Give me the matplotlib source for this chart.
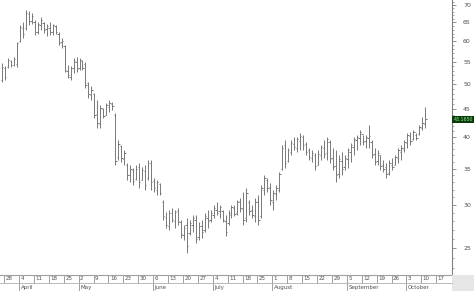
import numpy as np
import pandas as pd
import matplotlib
matplotlib.use('Agg')
import matplotlib.pyplot as plt
import matplotlib.transforms as mtransforms
from matplotlib.ticker import FixedLocator, NullFormatter

# daily OHLC, one bar per business day starting 2011-03-25
highs = [54.8, 54.1, 55.9, 55.5, 56.2, 59.8, 64.3, 65.1, 68.5, 68.2,
         67.7, 65.7, 65.1, 66.5, 65.1, 64.6, 65.1, 64.6, 64.3, 62.4,
         60.9, 59.1, 54.3, 54.1, 55.9, 56.2, 55.9, 55.5, 55.0, 50.5,
         49.7, 48.2, 46.8, 45.8, 45.2, 46.2, 46.8, 46.4, 44.3, 39.5,
         38.7, 37.9, 35.8, 35.5, 35.1, 35.5, 35.8, 35.2, 35.5, 36.3,
         36.3, 33.6, 33.4, 32.9, 30.6, 29.1, 29.4, 29.6, 29.4, 29.6,
         28.1, 27.6, 28.4, 28.1, 28.8, 28.8, 27.9, 28.1, 29.0, 29.4,
         29.4, 30.0, 30.4, 30.0, 29.4, 28.8, 29.4, 30.0, 30.0, 30.6,
         30.9, 31.7, 32.2, 30.6, 30.0, 30.9, 31.3, 32.7, 34.1, 33.6,
         32.9, 32.0, 32.7, 34.5, 38.7, 39.5, 38.2, 39.5, 40.0, 40.0,
         40.7, 40.4, 39.2, 38.2, 37.9, 37.4, 37.9, 38.7, 39.5, 40.0,
         39.5, 38.2, 37.9, 37.1, 37.6, 37.1, 38.2, 39.0, 40.0, 40.4,
         41.2, 40.4, 40.4, 42.1, 39.5, 38.2, 37.9, 37.1, 36.3, 35.8,
         36.3, 36.6, 37.1, 38.2, 38.7, 39.5, 40.7, 40.9, 41.2, 40.7,
         42.1, 43.5, 45.4]
lows = [50.5, 51.0, 53.6, 53.8, 54.1, 53.8, 59.8, 60.9, 63.0, 64.3,
        64.6, 61.6, 61.9, 63.0, 62.2, 61.4, 61.6, 61.6, 61.9, 59.1,
        58.4, 52.7, 51.4, 51.0, 52.5, 52.7, 53.2, 53.2, 49.3, 47.2,
        46.8, 43.4, 41.6, 41.6, 43.4, 43.9, 44.5, 44.9, 35.5, 36.3,
        36.0, 35.5, 33.4, 33.1, 32.7, 33.4, 32.2, 33.4, 32.0, 33.4,
        32.0, 31.7, 31.3, 31.3, 28.1, 27.2, 27.0, 27.9, 27.2, 27.6,
        26.1, 25.9, 24.5, 26.4, 26.8, 25.5, 25.9, 26.1, 26.8, 27.2,
        27.9, 28.4, 28.8, 28.4, 27.9, 26.3, 27.6, 28.4, 28.6, 28.8,
        29.1, 27.6, 27.9, 28.8, 28.4, 27.9, 27.6, 28.4, 31.3, 31.7,
        30.0, 29.4, 30.6, 31.7, 34.8, 35.1, 36.0, 37.1, 37.9, 37.6,
        37.9, 37.9, 37.1, 36.3, 36.0, 34.8, 35.5, 36.3, 36.6, 36.3,
        35.8, 34.8, 33.1, 33.6, 34.1, 34.8, 35.1, 36.0, 37.1, 37.9,
        38.7, 38.7, 38.2, 38.2, 36.6, 35.5, 35.5, 34.8, 34.5, 33.6,
        34.1, 34.8, 35.5, 35.8, 36.3, 37.6, 38.2, 38.7, 39.5, 39.5,
        40.4, 41.2, 41.6]
opens = [51.0, 53.5, 53.8, 55.2, 54.4, 54.5, 60.2, 63.5, 63.4, 67.5,
         65.5, 65.2, 62.4, 64.2, 64.8, 63.2, 63.5, 62.5, 64.0, 62.0,
         59.8, 58.8, 53.0, 51.6, 53.5, 55.0, 53.6, 55.2, 54.6, 50.2,
         47.8, 48.0, 44.2, 42.2, 45.0, 44.0, 45.5, 46.0, 44.0, 36.8,
         38.5, 36.5, 35.5, 34.0, 34.8, 33.5, 35.2, 33.4, 34.6, 33.6,
         35.8, 33.2, 32.0, 32.8, 30.4, 28.5, 27.4, 29.0, 28.0, 29.2,
         27.9, 26.4, 27.6, 26.6, 27.6, 28.2, 26.2, 27.4, 27.0, 28.4,
         28.2, 28.8, 29.4, 29.2, 29.2, 28.0, 27.8, 28.8, 29.6, 29.0,
         30.5, 29.5, 28.4, 30.4, 29.4, 28.6, 30.5, 28.6, 32.0, 33.4,
         32.4, 30.4, 31.4, 32.0, 35.0, 38.6, 36.2, 37.6, 38.8, 38.2,
         39.4, 40.0, 38.8, 37.8, 36.6, 37.0, 35.6, 37.0, 38.2, 37.4,
         39.2, 36.6, 35.4, 34.2, 36.2, 35.2, 36.4, 37.6, 38.4, 39.5,
         39.8, 40.6, 39.4, 39.8, 39.2, 37.2, 36.2, 37.0, 35.6, 35.2,
         34.4, 35.6, 35.6, 36.6, 37.6, 38.0, 39.0, 40.2, 39.6, 40.4,
         40.6, 41.6, 42.2]
closes = [53.8, 51.5, 55.5, 54.2, 55.8, 59.5, 63.8, 61.8, 67.8, 65.2,
          66.8, 62.5, 64.6, 65.8, 63.0, 64.0, 62.4, 64.2, 62.5, 59.6,
          60.2, 53.2, 52.0, 53.6, 55.2, 53.4, 55.5, 53.6, 49.8, 48.0,
          48.9, 44.0, 42.5, 45.3, 43.8, 45.8, 46.3, 45.6, 36.2, 38.8,
          36.6, 37.4, 34.0, 35.0, 33.2, 35.0, 33.0, 34.8, 32.6, 35.9,
          33.0, 32.2, 33.0, 31.6, 28.6, 27.6, 29.0, 28.2, 29.1, 28.0,
          26.5, 27.2, 25.2, 27.8, 28.4, 26.0, 27.5, 26.8, 28.6, 28.0,
          29.0, 29.6, 29.0, 29.8, 28.2, 26.8, 29.0, 29.7, 28.9, 30.4,
          29.6, 28.2, 31.6, 29.2, 28.8, 30.4, 28.2, 32.2, 33.6, 32.2,
          30.6, 31.5, 32.2, 34.2, 38.2, 35.8, 37.8, 39.0, 38.4, 39.6,
          40.2, 38.6, 37.6, 36.8, 37.4, 35.4, 37.2, 38.4, 37.2, 39.6,
          36.4, 35.2, 34.0, 36.4, 35.0, 36.6, 37.8, 38.6, 39.6, 40.0,
          40.8, 39.2, 40.0, 40.2, 37.0, 36.0, 37.4, 35.4, 35.0, 34.2,
          35.8, 35.2, 36.8, 37.8, 38.2, 39.2, 40.4, 39.4, 40.8, 39.8,
          41.8, 42.4, 43.165]

month_names = ['April', 'May', 'June', 'July', 'August', 'September', 'October']
y_major = [25, 30, 35, 40, 45, 50, 55, 60, 65, 70]

n = len(highs)
x = np.arange(n)
# full calendar of the axis, including empty days to the right
cal = pd.bdate_range('2011-03-25', '2011-10-28')

W, H = 474, 291
fig = plt.figure(figsize=(W / 100, H / 100), dpi=100)
fig.patch.set_facecolor('white')
bottom_px = 275
right_px = 452
ax = fig.add_axes([0, 1 - bottom_px / H, right_px / W, bottom_px / H])

bar_color = '#787878'
ax.vlines(x, lows, highs, color=bar_color, lw=0.7)
ax.hlines(opens, x - 0.45, x, color=bar_color, lw=0.7)
ax.hlines(closes, x, x + 0.45, color=bar_color, lw=0.7)

ax.set_yscale('log')
ax.set_ylim(22.3, 71.5)
ax.set_xlim(-0.68, 151)

for s in ['top', 'left']:
    ax.spines[s].set_visible(False)
ax.spines['right'].set_color('#808080')
ax.spines['right'].set_linewidth(0.8)
ax.spines['bottom'].set_color('#a0a0a0')
ax.spines['bottom'].set_linewidth(0.8)

ax.yaxis.tick_right()
ax.yaxis.set_major_locator(FixedLocator(y_major))
ax.yaxis.set_major_formatter(matplotlib.ticker.FixedFormatter([str(v) for v in y_major]))
ax.yaxis.set_minor_locator(FixedLocator(list(range(23, 72))))
ax.yaxis.set_minor_formatter(NullFormatter())
ax.tick_params(axis='y', which='major', length=3, width=0.6, color='#808080',
               labelsize=4.5, labelcolor='#505050', pad=5)
ax.tick_params(axis='y', which='minor', length=1.5, width=0.5, color='#808080')
ax.set_xticks([])

# date strip under the chart
trans = mtransforms.blended_transform_factory(ax.transData, fig.transFigure)
y_top = 1 - bottom_px / H
y_mid = 1 - 283 / H
y_bot = 0
fig.add_artist(plt.Line2D([0, right_px / W], [y_mid, y_mid], color='#b0b0b0', lw=0.6))
mondays = [i for i, d in enumerate(cal) if d.weekday() == 0 and i <= 146]
prev_month = 3
for i in mondays:
    d = cal[i]
    ax.add_artist(plt.Line2D([i - 0.3, i - 0.3], [y_mid, y_top], transform=trans,
                             color='#909090', lw=0.6, clip_on=False))
    ax.text(i + 0.2, (y_top + y_mid) / 2, str(d.day), transform=trans, fontsize=4.0,
            color='#505050', ha='left', va='center', clip_on=False)
    if d.month != prev_month:
        ax.add_artist(plt.Line2D([i - 0.3, i - 0.3], [y_bot, y_mid], transform=trans,
                                 color='#909090', lw=0.6, clip_on=False))
        ax.text(i + 0.2, (y_mid + y_bot) / 2 - 0.003, month_names[d.month - 4],
                transform=trans, fontsize=4.0, color='#505050', ha='left',
                va='center', clip_on=False)
        prev_month = d.month

# grey corner box under the price scale
fig.add_artist(plt.Rectangle((right_px / W, 0), 1 - right_px / W, 1 - bottom_px / H,
                             transform=fig.transFigure, facecolor='#e6e6e6',
                             edgecolor='none'))

# last price tag
tag = mtransforms.blended_transform_factory(ax.transAxes, ax.transData)
ax.text(1.003, closes[-1], '%.4f' % closes[-1], transform=tag, fontsize=3.4,
        color='#90ee90', ha='left', va='center', clip_on=False,
        bbox=dict(boxstyle='square,pad=0.2', facecolor='#0b3b0b', edgecolor='none'))

fig.savefig('out.png', dpi=100)
